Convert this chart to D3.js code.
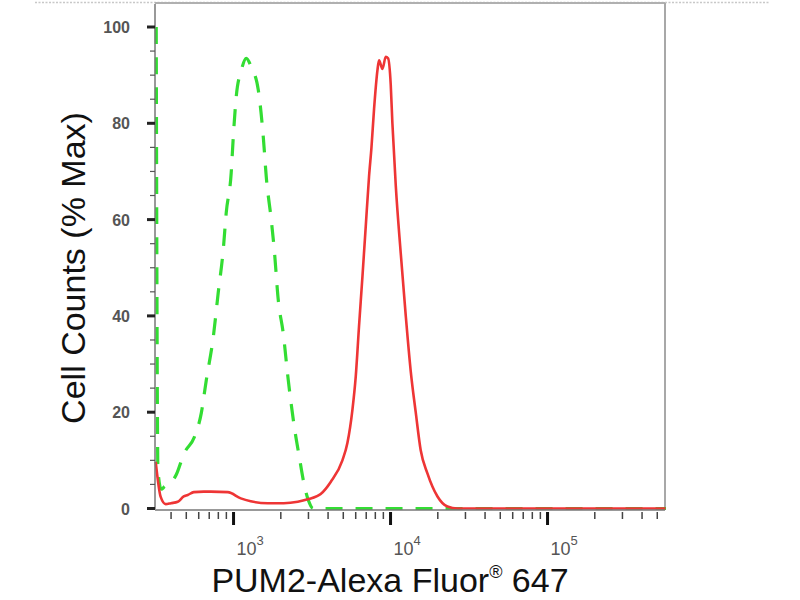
<!DOCTYPE html>
<html lang="en">
<head>
<meta charset="UTF-8">
<title>PUM2 flow histogram</title>
<script src="https://d3js.org/d3.v7.min.js"></script>
<style>
  body { margin: 0; background: #fff; }
  text { font-family: Arial, "Liberation Sans", sans-serif; }
</style>
</head>
<body>
<script>
// red: PUM2 stained sample, green: isotype control
const redX = [317, 341, 367, 396, 438, 478, 507, 554, 641, 710, 912, 1104, 1277, 1640, 2074, 2548, 2946, 3565, 4127,
  4900, 5272, 5675, 5958, 6251, 6572, 6897, 7240, 7505, 7796, 8190, 8386, 8816, 9253, 9572, 9955, 10200, 10720,
  11530, 12410, 13350, 14360, 15450, 17050, 19760, 22870, 26470, 560000];
const redY = [9.7, 2.4, 0.9, 1.1, 1.4, 2.5, 2.8, 3.4, 3.5, 3.5, 3.4, 2.1, 1.5, 1.1, 1.1, 1.4, 1.9, 3.0, 5.5,
  10, 13.6, 20.5, 27.4, 37.8, 48.1, 58.5, 68.9, 75, 83, 91, 93.1, 91.3, 93.8, 93.5, 88, 80, 67,
  53, 40, 28.5, 20, 12.1, 7.3, 2.5, 0.4, 0, 0];

const greenX = [317, 325, 341, 357, 425, 478, 554, 614, 661, 732, 787, 847, 885, 952, 981, 1025, 1104, 1188,
  1277, 1415, 1524, 1593, 1714, 1791, 1899, 2042, 2198, 2404, 2585, 2780, 2946, 3170, 560000];
const greenY = [100, 8, 4, 4.5, 7, 11.5, 14.8, 19.8, 26.7, 35.6, 44.8, 53.7, 61.4, 69.7, 77, 85.5, 91, 93.5,
  91.7, 87, 77.2, 68.8, 59.9, 53.7, 43.3, 36.4, 26.7, 16.9, 10.7, 4.9, 1.8, 0, 0];

const yMajor = [0, 20, 40, 60, 80, 100];
const yMinor = [5, 10, 15, 25, 30, 35, 45, 50, 55, 65, 70, 75, 85, 90, 95];
const xMajor = [1e3, 1e4, 1e5];
const xMinor = [400, 500, 600, 700, 800, 900,
  2000, 3000, 4000, 5000, 6000, 7000, 8000, 9000,
  20000, 30000, 40000, 50000, 60000, 70000, 80000, 90000,
  200000, 300000, 400000, 500000];

const width = 800, height = 600;
const plotLeft = 155, plotRight = 665, plotTop = 4, plotBottom = 509;

const x = d3.scaleLog().domain([316, 560000]).range([plotLeft, plotRight]);
const y = d3.scaleLinear().domain([0, 100]).range([508.5, 27]);

const svg = d3.select("body").append("svg")
  .attr("width", width)
  .attr("height", height);

// faint dotted line across the top of the image
svg.append("line")
  .attr("x1", 35).attr("x2", 770).attr("y1", 2.5).attr("y2", 2.5)
  .attr("stroke", "#c8c8c8").attr("stroke-width", 1.5)
  .attr("stroke-dasharray", "2,1.5");

// frame top and right
svg.append("line")
  .attr("x1", plotLeft).attr("x2", plotRight).attr("y1", 3).attr("y2", 3)
  .attr("stroke", "#b0b0b0").attr("stroke-width", 2);
svg.append("line")
  .attr("x1", plotRight).attr("x2", plotRight).attr("y1", 3).attr("y2", plotBottom)
  .attr("stroke", "#a8a8a8").attr("stroke-width", 2);

// curves
const line = d3.line().curve(d3.curveMonotoneX);

svg.append("path")
  .attr("d", line(greenX.map((v, i) => [x(v) + 1, y(greenY[i])])))
  .attr("fill", "none")
  .attr("stroke", "#33dd33")
  .attr("stroke-width", 3.2)
  .attr("stroke-dasharray", "17,13");

svg.append("path")
  .attr("d", line(redX.map((v, i) => [x(v) + 0.5, y(redY[i])])))
  .attr("fill", "none")
  .attr("stroke", "#ee3535")
  .attr("stroke-width", 2.6);

// y axis
svg.append("line")
  .attr("x1", plotLeft).attr("x2", plotLeft).attr("y1", plotTop).attr("y2", plotBottom)
  .attr("stroke", "#777").attr("stroke-width", 1.5);

svg.selectAll(".ymin").data(yMinor).enter().append("line")
  .attr("x1", plotLeft - 5).attr("x2", plotLeft)
  .attr("y1", d => y(d)).attr("y2", d => y(d))
  .attr("stroke", "#555").attr("stroke-width", 1.2);

svg.selectAll(".ymaj").data(yMajor).enter().append("line")
  .attr("x1", plotLeft - 8).attr("x2", plotLeft)
  .attr("y1", d => y(d)).attr("y2", d => y(d))
  .attr("stroke", "#222").attr("stroke-width", 3);

svg.selectAll(".ylab").data(yMajor).enter().append("text")
  .attr("x", plotLeft - 25)
  .attr("y", d => y(d) + 6)
  .attr("text-anchor", "end")
  .attr("fill", "#555")
  .style("font-size", "16px")
  .style("font-weight", "bold")
  .text(d => d);

// x axis
svg.append("line")
  .attr("x1", plotLeft).attr("x2", plotRight).attr("y1", plotBottom + 1).attr("y2", plotBottom + 1)
  .attr("stroke", "#777").attr("stroke-width", 1.5);

svg.selectAll(".xmin").data(xMinor).enter().append("line")
  .attr("x1", d => x(d)).attr("x2", d => x(d))
  .attr("y1", plotBottom + 3).attr("y2", plotBottom + 10)
  .attr("stroke", "#444").attr("stroke-width", 1.5);

svg.selectAll(".xmaj").data(xMajor).enter().append("line")
  .attr("x1", d => x(d)).attr("x2", d => x(d))
  .attr("y1", plotBottom + 3).attr("y2", plotBottom + 16)
  .attr("stroke", "#111").attr("stroke-width", 3);

const xl = svg.selectAll(".xlab").data(xMajor).enter().append("text")
  .attr("x", d => x(d) + 3)
  .attr("y", 555)
  .attr("text-anchor", "start")
  .attr("fill", "#555")
  .style("font-size", "18px");
xl.append("tspan").text("10");
xl.append("tspan")
  .attr("dy", -10)
  .style("font-size", "13px")
  .text(d => Math.round(Math.log10(d)));

// axis titles
const xt = svg.append("text")
  .attr("x", 390)
  .attr("y", 592)
  .attr("text-anchor", "middle")
  .attr("fill", "#111")
  .style("font-size", "34px");
xt.append("tspan").text("PUM2-Alexa Fluor");
xt.append("tspan").attr("dy", -14).style("font-size", "18px").text("®");
xt.append("tspan").attr("dy", 14).text(" 647");

svg.append("text")
  .attr("transform", "translate(85,268) rotate(-90)")
  .attr("text-anchor", "middle")
  .attr("fill", "#111")
  .style("font-size", "34px")
  .text("Cell Counts (% Max)");
</script>
</body>
</html>
